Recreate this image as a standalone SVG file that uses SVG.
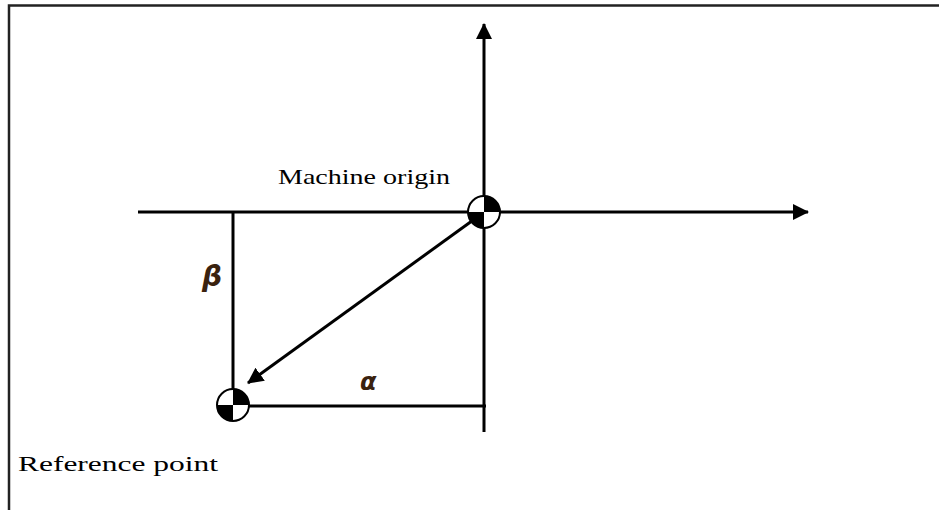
<svg xmlns="http://www.w3.org/2000/svg" width="939" height="510" viewBox="0 0 939 510">
<style>
.ln{stroke:#000;stroke-width:3;fill:none}
.lbl{font-family:"Liberation Serif",serif;font-size:21px;fill:#000}
.greek{font-family:"DejaVu Sans","Liberation Sans",sans-serif;font-style:italic;font-weight:bold;fill:#3a220f}
</style>
<defs>
<marker id="ah2" markerWidth="16" markerHeight="16" refX="15" refY="8" orient="auto" markerUnits="userSpaceOnUse" viewBox="0 0 16 16">
<path d="M0,0 L16,8 L0,16 Z" fill="#000"/>
</marker>
</defs>
<rect width="939" height="510" fill="#fff"/>
<path d="M9,510 V5.5 H939" stroke="#222" stroke-width="2.5" fill="none"/>
<g id="connectors">
<line class="ln" x1="138" y1="212" x2="808" y2="212" marker-end="url(#ah2)"/>
<line class="ln" x1="484" y1="432" x2="484" y2="24" marker-end="url(#ah2)"/>
<line class="ln" x1="233" y1="212" x2="233" y2="396"/>
<line class="ln" x1="240" y1="406" x2="486" y2="406"/>
<line class="ln" x1="476" y1="218" x2="248" y2="383" marker-end="url(#ah2)"/>
</g>
<g id="machine-origin">
<circle cx="484" cy="212" r="16" fill="#fff" stroke="#000" stroke-width="2"/>
<path d="M484,212 V196 A16,16 0 0 1 500,212 Z" fill="#000"/>
<path d="M484,212 V228 A16,16 0 0 1 468,212 Z" fill="#000"/>
<text class="lbl" x="278" y="184" textLength="172" lengthAdjust="spacingAndGlyphs">Machine origin</text>
</g>
<g id="reference-point">
<circle cx="233" cy="405" r="16" fill="#fff" stroke="#000" stroke-width="2"/>
<path d="M233,405 V389 A16,16 0 0 1 249,405 Z" fill="#000"/>
<path d="M233,405 V421 A16,16 0 0 1 217,405 Z" fill="#000"/>
<text class="lbl" x="18" y="471" textLength="200" lengthAdjust="spacingAndGlyphs">Reference point</text>
</g>
<text class="greek" x="202" y="286" font-size="28">β</text>
<text class="greek" x="360" y="390" font-size="24">α</text>
</svg>
